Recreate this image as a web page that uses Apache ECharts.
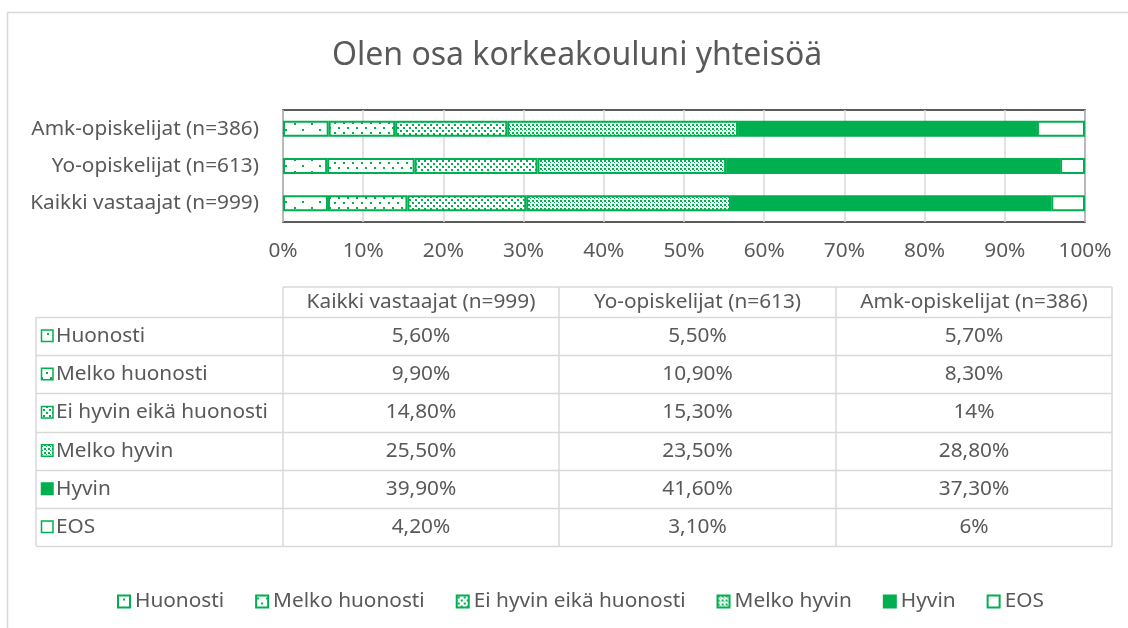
<!DOCTYPE html>
<html>
<head>
<meta charset="utf-8">
<script src="https://cdn.jsdelivr.net/npm/echarts@6/dist/echarts.min.js"></script>
<style>
  html, body { margin: 0; padding: 0; background: #fff; }
  #main { width: 1128px; height: 628px; }
</style>
</head>
<body>
<div id="main"></div>
<script>
// data
const categories = ['Kaikki vastaajat (n=999)', 'Yo-opiskelijat (n=613)', 'Amk-opiskelijat (n=386)'];
const answers = ['Huonosti', 'Melko huonosti', 'Ei hyvin eikä huonosti', 'Melko hyvin', 'Hyvin', 'EOS'];
const huonosti = [5.6, 5.5, 5.7];
const melkoHuonosti = [9.9, 10.9, 8.3];
const eiHyvinEikaHuonosti = [14.8, 15.3, 14];
const melkoHyvin = [25.5, 23.5, 28.8];
const hyvin = [39.9, 41.6, 37.3];
const eos = [4.2, 3.1, 6];

const values = [huonosti, melkoHuonosti, eiHyvinEikaHuonosti, melkoHyvin, hyvin, eos];

const green = '#00B050';
const textColor = '#595959';
const font = '"Noto Sans"';
const fontSize = 20.8;

function pattern(w, h, dots) {
  const c = document.createElement('canvas');
  c.width = w;
  c.height = h;
  const ctx = c.getContext('2d');
  ctx.fillStyle = '#fff';
  ctx.fillRect(0, 0, w, h);
  ctx.fillStyle = green;
  dots.forEach(d => ctx.fillRect(d[0], d[1], d[2] || 2, d[3] || 2));
  return { image: c, repeat: 'repeat' };
}

const fills = [
  pattern(17, 12, [[5, 3], [13, 9]]),
  pattern(9, 10, [[1, 2], [5, 7]]),
  pattern(6, 6, [[1, 1], [4, 4]]),
  pattern(4, 4, [[0, 0], [2, 2, 1, 1]]),
  green,
  '#fff'
];

// 100 % stacked like the original
const totals = categories.map((c, i) => values.reduce((s, v) => s + v[i], 0));

var chartDom = document.getElementById('main');
var myChart = echarts.init(chartDom);

const fmt = v => Number.isInteger(v) ? v + '%' : v.toFixed(2).replace('.', ',') + '%';

// data table under the chart
const colX = [36, 283, 559, 836, 1112];
const headTop = 287;
const rowTop = 317;
const rowH = 38.2;
const lineStyle = { stroke: '#D9D9D9', lineWidth: 1.5 };
const cellFont = fontSize + 'px ' + font;
const graphic = [];

graphic.push({
  type: 'rect', silent: true, z: -10,
  shape: { x: 7.5, y: 12.5, width: 1300, height: 800 },
  style: { fill: 'none', stroke: '#D9D9D9', lineWidth: 1.5 }
});

const bottom = rowTop + rowH * answers.length;
graphic.push({ type: 'line', silent: true, shape: { x1: colX[1], y1: headTop, x2: colX[4], y2: headTop }, style: lineStyle });
for (let i = 0; i <= answers.length; i++) {
  const y = Math.round(rowTop + rowH * i) + 0.5;
  graphic.push({ type: 'line', silent: true, shape: { x1: colX[0], y1: y, x2: colX[4], y2: y }, style: lineStyle });
}
graphic.push({ type: 'line', silent: true, shape: { x1: colX[0], y1: rowTop, x2: colX[0], y2: bottom }, style: lineStyle });
for (let j = 1; j < colX.length; j++) {
  graphic.push({ type: 'line', silent: true, shape: { x1: colX[j], y1: headTop, x2: colX[j], y2: bottom }, style: lineStyle });
}

categories.forEach((c, j) => {
  graphic.push({
    type: 'text', silent: true,
    style: {
      text: c, x: (colX[j + 1] + colX[j + 2]) / 2, y: (headTop + rowTop) / 2,
      fill: textColor, font: cellFont,
      align: 'center', verticalAlign: 'middle', textAlign: 'center', textVerticalAlign: 'middle'
    }
  });
});

answers.forEach((a, i) => {
  const cy = rowTop + rowH * i + rowH / 2;
  graphic.push({
    type: 'rect', silent: true,
    shape: { x: 41.5, y: cy - 6, width: 11.5, height: 11.5 },
    style: { fill: fills[i], stroke: green, lineWidth: 1.5 }
  });
  graphic.push({
    type: 'text', silent: true,
    style: {
      text: a, x: 56, y: cy, fill: textColor, font: cellFont,
      align: 'left', verticalAlign: 'middle', textAlign: 'left', textVerticalAlign: 'middle'
    }
  });
  values[i].forEach((v, j) => {
    graphic.push({
      type: 'text', silent: true,
      style: {
        text: fmt(v), x: (colX[j + 1] + colX[j + 2]) / 2, y: cy, fill: textColor, font: cellFont,
        align: 'center', verticalAlign: 'middle', textAlign: 'center', textVerticalAlign: 'middle'
      }
    });
  });
});

var option = {
  animation: false,
  textStyle: { fontFamily: font },
  title: {
    text: 'Olen osa korkeakouluni yhteisöä',
    left: 327,
    top: 35,
    textStyle: { fontSize: 32, fontWeight: 'normal', color: textColor, fontFamily: font }
  },
  legend: {
    top: 586,
    left: 112,
    itemWidth: 12,
    itemHeight: 12,
    itemGap: 31,
    icon: 'rect',
    textStyle: { fontSize: fontSize, color: textColor, fontFamily: font },
    data: answers
  },
  grid: {
    left: 283,
    right: 43,
    top: 110,
    height: 112,
    show: true,
    borderColor: '#262626',
    borderWidth: 1.5,
    containLabel: false
  },
  xAxis: {
    type: 'value',
    min: 0,
    max: 100,
    interval: 10,
    axisLabel: { formatter: '{value}%', fontSize: fontSize, color: textColor, margin: 19 },
    axisLine: { show: false },
    axisTick: { show: false },
    splitLine: { lineStyle: { color: '#D9D9D9', width: 1.5 } }
  },
  yAxis: {
    type: 'category',
    data: categories,
    axisLabel: { fontSize: fontSize, color: textColor, margin: 24 },
    axisLine: { show: false },
    axisTick: { show: false }
  },
  series: answers.map((a, i) => ({
    name: a,
    type: 'bar',
    stack: 'total',
    barWidth: 16,
    itemStyle: { color: fills[i], borderColor: green, borderWidth: 2 },
    data: values[i].map((v, j) => v / totals[j] * 100)
  })),
  graphic: graphic
};

option && myChart.setOption(option);
</script>
</body>
</html>
